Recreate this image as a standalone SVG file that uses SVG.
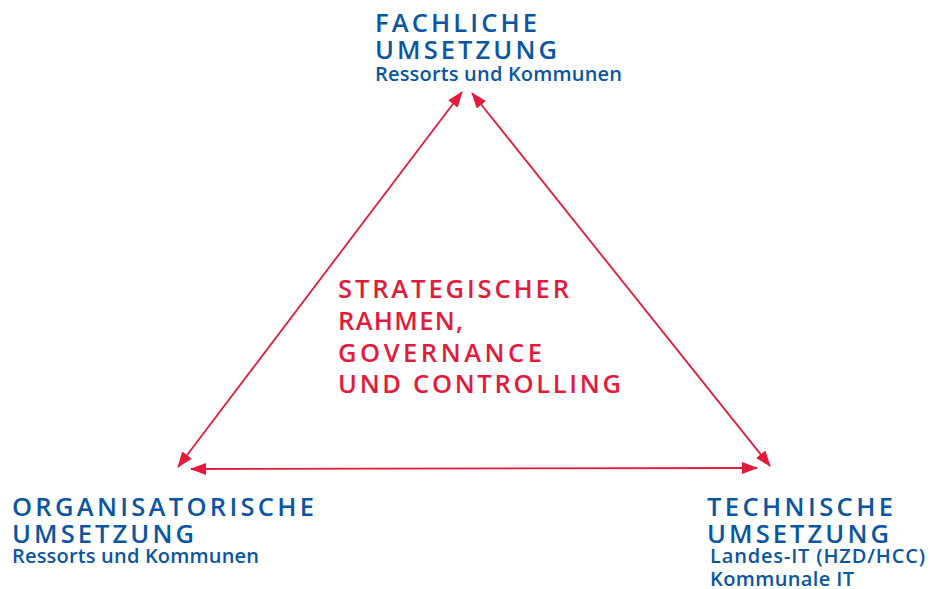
<svg xmlns="http://www.w3.org/2000/svg" width="935" height="589" viewBox="0 0 935 589">
<style>
.h{font-family:"Open Sans","Noto Sans",sans-serif;font-size:25.5px;font-weight:600;fill:#0a56a2;}
.s{font-family:"Open Sans","Noto Sans",sans-serif;font-size:20px;font-weight:600;fill:#0a56a2;}
.c{font-family:"Open Sans","Noto Sans",sans-serif;font-size:25.5px;font-weight:600;fill:#e31a3c;}
.ln{stroke:#e31a3c;stroke-width:1.8;fill:none;marker-start:url(#a);marker-end:url(#a);}
</style>
<defs>
<marker id="a" viewBox="0 0 16 12" refX="15" refY="6" markerWidth="16" markerHeight="12" markerUnits="userSpaceOnUse" orient="auto-start-reverse">
<path d="M0,0 L16,6 L0,12 Z" fill="#e31a3c"/>
</marker>
</defs>
<rect width="935" height="589" fill="#fff"/>
<g id="connectors">
<line class="ln" x1="178" y1="467" x2="462" y2="92"/>
<line class="ln" x1="472" y1="93" x2="770" y2="466"/>
<line class="ln" x1="191" y1="469" x2="757" y2="468"/>
</g>
<g id="node-fachlich">
<text class="h" x="375" y="32" textLength="162" lengthAdjust="spacing">FACHLICHE</text>
<text class="h" x="375" y="59" textLength="182" lengthAdjust="spacing">UMSETZUNG</text>
<text class="s" x="375" y="81" textLength="247" lengthAdjust="spacing">Ressorts und Kommunen</text>
</g>
<g id="node-organisatorisch">
<text class="h" x="12" y="516" textLength="302" lengthAdjust="spacing">ORGANISATORISCHE</text>
<text class="h" x="12" y="543" textLength="182" lengthAdjust="spacing">UMSETZUNG</text>
<text class="s" x="12" y="563" textLength="247" lengthAdjust="spacing">Ressorts und Kommunen</text>
</g>
<g id="node-technisch">
<text class="h" x="707" y="516" textLength="186" lengthAdjust="spacing">TECHNISCHE</text>
<text class="h" x="707" y="543" textLength="182" lengthAdjust="spacing">UMSETZUNG</text>
<text class="s" x="710" y="563" textLength="215" lengthAdjust="spacing">Landes-IT (HZD/HCC)</text>
<text class="s" x="710" y="586" textLength="144" lengthAdjust="spacing">Kommunale IT</text>
</g>
<g id="node-center">
<text class="c" x="338" y="298" textLength="231" lengthAdjust="spacing">STRATEGISCHER</text>
<text class="c" x="338" y="330" textLength="125" lengthAdjust="spacing">RAHMEN,</text>
<text class="c" x="338" y="362" textLength="204" lengthAdjust="spacing">GOVERNANCE</text>
<text class="c" x="338" y="393" textLength="283" lengthAdjust="spacing">UND CONTROLLING</text>
</g>
</svg>
